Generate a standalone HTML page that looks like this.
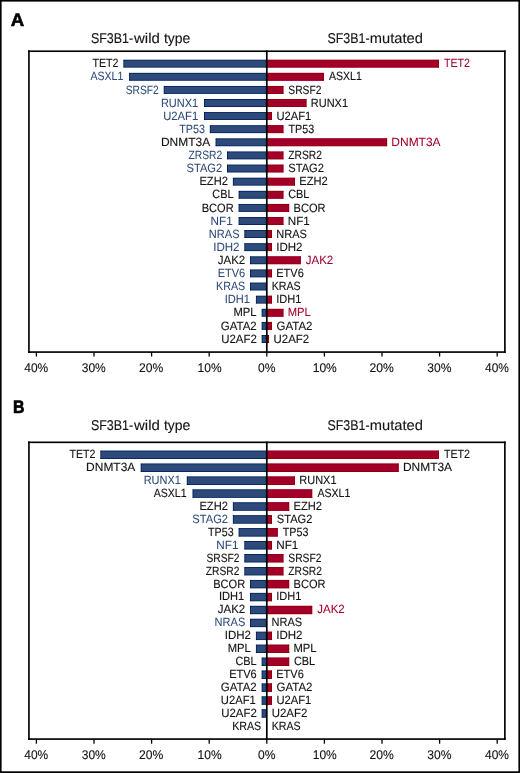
<!DOCTYPE html>
<html><head><meta charset="utf-8"><style>
html,body{margin:0;padding:0;background:#fff;width:520px;height:773px;overflow:hidden}
svg{display:block;will-change:transform;text-rendering:geometricPrecision;font-family:"Liberation Sans",sans-serif}
</style></head><body>
<svg width="520" height="773" viewBox="0 0 520 773" font-family="'Liberation Sans', sans-serif">
<defs><filter id="sh" x="0" y="0" width="100%" height="100%" filterUnits="userSpaceOnUse" color-interpolation-filters="sRGB"><feConvolveMatrix order="3" kernelMatrix="0 -0.2 0 -0.2 1.8 -0.2 0 -0.2 0" preserveAlpha="true"/></filter></defs>
<rect width="520" height="773" fill="#fff"/>
<g filter="url(#sh)">
<rect width="520" height="773" fill="#fff"/>
<rect x="123.30" y="59.60" width="143.50" height="8.10" fill="#2d4a7a"/>
<rect x="266.80" y="59.60" width="172.30" height="8.10" fill="#a2002b"/>
<rect x="129.06" y="72.71" width="137.74" height="8.10" fill="#2d4a7a"/>
<rect x="266.80" y="72.71" width="57.10" height="8.10" fill="#a2002b"/>
<rect x="163.62" y="85.82" width="103.18" height="8.10" fill="#2d4a7a"/>
<rect x="266.80" y="85.82" width="16.78" height="8.10" fill="#a2002b"/>
<rect x="203.94" y="98.93" width="62.86" height="8.10" fill="#2d4a7a"/>
<rect x="266.80" y="98.93" width="39.82" height="8.10" fill="#a2002b"/>
<rect x="203.94" y="112.04" width="62.86" height="8.10" fill="#2d4a7a"/>
<rect x="266.80" y="112.04" width="5.26" height="8.10" fill="#a2002b"/>
<rect x="209.70" y="125.15" width="57.10" height="8.10" fill="#2d4a7a"/>
<rect x="266.80" y="125.15" width="16.78" height="8.10" fill="#a2002b"/>
<rect x="215.46" y="138.26" width="51.34" height="8.10" fill="#2d4a7a"/>
<rect x="266.80" y="138.26" width="120.46" height="8.10" fill="#a2002b"/>
<rect x="226.98" y="151.37" width="39.82" height="8.10" fill="#2d4a7a"/>
<rect x="266.80" y="151.37" width="16.78" height="8.10" fill="#a2002b"/>
<rect x="226.98" y="164.48" width="39.82" height="8.10" fill="#2d4a7a"/>
<rect x="266.80" y="164.48" width="16.78" height="8.10" fill="#a2002b"/>
<rect x="232.74" y="177.59" width="34.06" height="8.10" fill="#2d4a7a"/>
<rect x="266.80" y="177.59" width="28.30" height="8.10" fill="#a2002b"/>
<rect x="238.50" y="190.70" width="28.30" height="8.10" fill="#2d4a7a"/>
<rect x="266.80" y="190.70" width="16.78" height="8.10" fill="#a2002b"/>
<rect x="238.50" y="203.81" width="28.30" height="8.10" fill="#2d4a7a"/>
<rect x="266.80" y="203.81" width="22.54" height="8.10" fill="#a2002b"/>
<rect x="238.50" y="216.92" width="28.30" height="8.10" fill="#2d4a7a"/>
<rect x="266.80" y="216.92" width="16.78" height="8.10" fill="#a2002b"/>
<rect x="244.26" y="230.03" width="22.54" height="8.10" fill="#2d4a7a"/>
<rect x="266.80" y="230.03" width="5.26" height="8.10" fill="#a2002b"/>
<rect x="244.26" y="243.14" width="22.54" height="8.10" fill="#2d4a7a"/>
<rect x="266.80" y="243.14" width="5.26" height="8.10" fill="#a2002b"/>
<rect x="250.02" y="256.25" width="16.78" height="8.10" fill="#2d4a7a"/>
<rect x="266.80" y="256.25" width="34.06" height="8.10" fill="#a2002b"/>
<rect x="250.02" y="269.36" width="16.78" height="8.10" fill="#2d4a7a"/>
<rect x="266.80" y="269.36" width="5.26" height="8.10" fill="#a2002b"/>
<rect x="250.02" y="282.47" width="16.78" height="8.10" fill="#2d4a7a"/>
<rect x="255.78" y="295.58" width="11.02" height="8.10" fill="#2d4a7a"/>
<rect x="266.80" y="295.58" width="5.26" height="8.10" fill="#a2002b"/>
<rect x="261.54" y="308.69" width="5.26" height="8.10" fill="#2d4a7a"/>
<rect x="266.80" y="308.69" width="16.78" height="8.10" fill="#a2002b"/>
<rect x="261.54" y="321.80" width="5.26" height="8.10" fill="#2d4a7a"/>
<rect x="266.80" y="321.80" width="5.26" height="8.10" fill="#a2002b"/>
<rect x="261.54" y="334.91" width="5.26" height="8.10" fill="#2d4a7a"/>
<rect x="266.80" y="334.91" width="2.38" height="8.10" fill="#a2002b"/>
<rect x="100.26" y="450.45" width="166.54" height="8.65" fill="#2d4a7a"/>
<rect x="266.80" y="450.45" width="172.30" height="8.65" fill="#a2002b"/>
<rect x="140.58" y="463.38" width="126.22" height="8.65" fill="#2d4a7a"/>
<rect x="266.80" y="463.38" width="131.98" height="8.65" fill="#a2002b"/>
<rect x="186.66" y="476.32" width="80.14" height="8.65" fill="#2d4a7a"/>
<rect x="266.80" y="476.32" width="28.30" height="8.65" fill="#a2002b"/>
<rect x="192.42" y="489.25" width="74.38" height="8.65" fill="#2d4a7a"/>
<rect x="266.80" y="489.25" width="45.58" height="8.65" fill="#a2002b"/>
<rect x="232.74" y="502.19" width="34.06" height="8.65" fill="#2d4a7a"/>
<rect x="266.80" y="502.19" width="22.54" height="8.65" fill="#a2002b"/>
<rect x="232.74" y="515.12" width="34.06" height="8.65" fill="#2d4a7a"/>
<rect x="266.80" y="515.12" width="5.26" height="8.65" fill="#a2002b"/>
<rect x="238.50" y="528.06" width="28.30" height="8.65" fill="#2d4a7a"/>
<rect x="266.80" y="528.06" width="11.02" height="8.65" fill="#a2002b"/>
<rect x="244.26" y="541.00" width="22.54" height="8.65" fill="#2d4a7a"/>
<rect x="266.80" y="541.00" width="5.26" height="8.65" fill="#a2002b"/>
<rect x="244.26" y="553.93" width="22.54" height="8.65" fill="#2d4a7a"/>
<rect x="266.80" y="553.93" width="16.78" height="8.65" fill="#a2002b"/>
<rect x="244.26" y="566.87" width="22.54" height="8.65" fill="#2d4a7a"/>
<rect x="266.80" y="566.87" width="16.78" height="8.65" fill="#a2002b"/>
<rect x="250.02" y="579.80" width="16.78" height="8.65" fill="#2d4a7a"/>
<rect x="266.80" y="579.80" width="22.54" height="8.65" fill="#a2002b"/>
<rect x="250.02" y="592.74" width="16.78" height="8.65" fill="#2d4a7a"/>
<rect x="266.80" y="592.74" width="5.26" height="8.65" fill="#a2002b"/>
<rect x="250.02" y="605.67" width="16.78" height="8.65" fill="#2d4a7a"/>
<rect x="266.80" y="605.67" width="45.58" height="8.65" fill="#a2002b"/>
<rect x="250.02" y="618.61" width="16.78" height="8.65" fill="#2d4a7a"/>
<rect x="255.78" y="631.54" width="11.02" height="8.65" fill="#2d4a7a"/>
<rect x="266.80" y="631.54" width="5.26" height="8.65" fill="#a2002b"/>
<rect x="255.78" y="644.48" width="11.02" height="8.65" fill="#2d4a7a"/>
<rect x="266.80" y="644.48" width="22.54" height="8.65" fill="#a2002b"/>
<rect x="261.54" y="657.41" width="5.26" height="8.65" fill="#2d4a7a"/>
<rect x="266.80" y="657.41" width="22.54" height="8.65" fill="#a2002b"/>
<rect x="261.54" y="670.35" width="5.26" height="8.65" fill="#2d4a7a"/>
<rect x="266.80" y="670.35" width="5.26" height="8.65" fill="#a2002b"/>
<rect x="261.54" y="683.28" width="5.26" height="8.65" fill="#2d4a7a"/>
<rect x="266.80" y="683.28" width="5.26" height="8.65" fill="#a2002b"/>
<rect x="261.54" y="696.22" width="5.26" height="8.65" fill="#2d4a7a"/>
<rect x="266.80" y="696.22" width="5.26" height="8.65" fill="#a2002b"/>
<rect x="261.54" y="709.15" width="5.26" height="8.65" fill="#2d4a7a"/>
</g>
<rect x="28.10" y="50.40" width="477.60" height="1.65" fill="#000"/>
<rect x="28.10" y="351.25" width="477.60" height="1.65" fill="#000"/>
<rect x="28.10" y="50.40" width="1.65" height="302.50" fill="#000"/>
<rect x="504.05" y="50.40" width="1.65" height="302.50" fill="#000"/>
<rect x="265.95" y="50.40" width="1.70" height="302.50" fill="#000"/>
<rect x="35.75" y="352.40" width="1.30" height="4.10" fill="#000"/>
<rect x="93.35" y="352.40" width="1.30" height="4.10" fill="#000"/>
<rect x="150.95" y="352.40" width="1.30" height="4.10" fill="#000"/>
<rect x="208.55" y="352.40" width="1.30" height="4.10" fill="#000"/>
<rect x="266.15" y="352.40" width="1.30" height="4.10" fill="#000"/>
<rect x="323.75" y="352.40" width="1.30" height="4.10" fill="#000"/>
<rect x="381.35" y="352.40" width="1.30" height="4.10" fill="#000"/>
<rect x="438.95" y="352.40" width="1.30" height="4.10" fill="#000"/>
<rect x="496.55" y="352.40" width="1.30" height="4.10" fill="#000"/>
<rect x="28.10" y="441.50" width="477.60" height="1.65" fill="#000"/>
<rect x="28.10" y="738.25" width="477.60" height="1.65" fill="#000"/>
<rect x="28.10" y="441.50" width="1.65" height="298.40" fill="#000"/>
<rect x="504.05" y="441.50" width="1.65" height="298.40" fill="#000"/>
<rect x="265.95" y="441.50" width="1.70" height="298.40" fill="#000"/>
<rect x="35.75" y="739.40" width="1.30" height="4.30" fill="#000"/>
<rect x="93.35" y="739.40" width="1.30" height="4.30" fill="#000"/>
<rect x="150.95" y="739.40" width="1.30" height="4.30" fill="#000"/>
<rect x="208.55" y="739.40" width="1.30" height="4.30" fill="#000"/>
<rect x="266.15" y="739.40" width="1.30" height="4.30" fill="#000"/>
<rect x="323.75" y="739.40" width="1.30" height="4.30" fill="#000"/>
<rect x="381.35" y="739.40" width="1.30" height="4.30" fill="#000"/>
<rect x="438.95" y="739.40" width="1.30" height="4.30" fill="#000"/>
<rect x="496.55" y="739.40" width="1.30" height="4.30" fill="#000"/>
<text transform="translate(92.49 67.30) scale(0.8854 1)" font-size="12.0" fill="#141414" stroke="#141414" stroke-width="0.136">TET2</text>
<text transform="translate(443.96 67.30) scale(0.8879 1)" font-size="12.0" fill="#a2002b" stroke="#a2002b" stroke-width="0.056">TET2</text>
<text transform="translate(90.39 80.41) scale(0.8800 1)" font-size="12.0" fill="#2d4a7a" stroke="#2d4a7a" stroke-width="0.057">ASXL1</text>
<text transform="translate(328.96 80.41) scale(0.8781 1)" font-size="12.0" fill="#141414" stroke="#141414" stroke-width="0.137">ASXL1</text>
<text transform="translate(125.72 93.52) scale(0.8554 1)" font-size="12.0" fill="#2d4a7a" stroke="#2d4a7a" stroke-width="0.058">SRSF2</text>
<text transform="translate(288.32 93.52) scale(0.8536 1)" font-size="12.0" fill="#141414" stroke="#141414" stroke-width="0.141">SRSF2</text>
<text transform="translate(160.91 106.63) scale(0.9159 1)" font-size="12.0" fill="#2d4a7a" stroke="#2d4a7a" stroke-width="0.055">RUNX1</text>
<text transform="translate(310.82 106.63) scale(0.9141 1)" font-size="12.0" fill="#141414" stroke="#141414" stroke-width="0.131">RUNX1</text>
<text transform="translate(163.16 119.74) scale(0.9374 1)" font-size="12.0" fill="#2d4a7a" stroke="#2d4a7a" stroke-width="0.053">U2AF1</text>
<text transform="translate(276.42 119.74) scale(0.9354 1)" font-size="12.0" fill="#141414" stroke="#141414" stroke-width="0.128">U2AF1</text>
<text transform="translate(179.16 132.85) scale(0.8980 1)" font-size="12.0" fill="#2d4a7a" stroke="#2d4a7a" stroke-width="0.056">TP53</text>
<text transform="translate(288.47 132.85) scale(0.8955 1)" font-size="12.0" fill="#141414" stroke="#141414" stroke-width="0.134">TP53</text>
<text transform="translate(160.99 145.96) scale(0.9963 1)" font-size="12.0" fill="#141414" stroke="#141414" stroke-width="0.120">DNMT3A</text>
<text transform="translate(391.35 145.96) scale(0.9978 1)" font-size="12.0" fill="#a2002b" stroke="#a2002b" stroke-width="0.050">DNMT3A</text>
<text transform="translate(188.48 159.07) scale(0.8563 1)" font-size="12.0" fill="#2d4a7a" stroke="#2d4a7a" stroke-width="0.058">ZRSR2</text>
<text transform="translate(288.32 159.07) scale(0.8545 1)" font-size="12.0" fill="#141414" stroke="#141414" stroke-width="0.140">ZRSR2</text>
<text transform="translate(186.56 172.18) scale(0.9270 1)" font-size="12.0" fill="#2d4a7a" stroke="#2d4a7a" stroke-width="0.054">STAG2</text>
<text transform="translate(288.29 172.18) scale(0.9252 1)" font-size="12.0" fill="#141414" stroke="#141414" stroke-width="0.130">STAG2</text>
<text transform="translate(199.43 185.29) scale(0.9292 1)" font-size="12.0" fill="#141414" stroke="#141414" stroke-width="0.129">EZH2</text>
<text transform="translate(299.29 185.29) scale(0.9292 1)" font-size="12.0" fill="#141414" stroke="#141414" stroke-width="0.129">EZH2</text>
<text transform="translate(212.35 198.40) scale(0.9065 1)" font-size="12.0" fill="#141414" stroke="#141414" stroke-width="0.132">CBL</text>
<text transform="translate(288.13 198.40) scale(0.9065 1)" font-size="12.0" fill="#141414" stroke="#141414" stroke-width="0.132">CBL</text>
<text transform="translate(201.70 211.51) scale(0.9209 1)" font-size="12.0" fill="#141414" stroke="#141414" stroke-width="0.130">BCOR</text>
<text transform="translate(293.54 211.51) scale(0.9209 1)" font-size="12.0" fill="#141414" stroke="#141414" stroke-width="0.130">BCOR</text>
<text transform="translate(210.61 224.62) scale(0.9767 1)" font-size="12.0" fill="#2d4a7a" stroke="#2d4a7a" stroke-width="0.051">NF1</text>
<text transform="translate(287.73 224.62) scale(0.9734 1)" font-size="12.0" fill="#141414" stroke="#141414" stroke-width="0.123">NF1</text>
<text transform="translate(208.82 237.73) scale(0.9201 1)" font-size="12.0" fill="#2d4a7a" stroke="#2d4a7a" stroke-width="0.054">NRAS</text>
<text transform="translate(276.26 237.73) scale(0.9179 1)" font-size="12.0" fill="#141414" stroke="#141414" stroke-width="0.131">NRAS</text>
<text transform="translate(213.18 250.84) scale(0.9627 1)" font-size="12.0" fill="#2d4a7a" stroke="#2d4a7a" stroke-width="0.052">IDH2</text>
<text transform="translate(276.22 250.84) scale(0.9600 1)" font-size="12.0" fill="#141414" stroke="#141414" stroke-width="0.125">IDH2</text>
<text transform="translate(217.80 263.95) scale(0.9562 1)" font-size="12.0" fill="#141414" stroke="#141414" stroke-width="0.126">JAK2</text>
<text transform="translate(305.71 263.95) scale(0.9587 1)" font-size="12.0" fill="#a2002b" stroke="#a2002b" stroke-width="0.052">JAK2</text>
<text transform="translate(217.68 277.06) scale(0.9182 1)" font-size="12.0" fill="#2d4a7a" stroke="#2d4a7a" stroke-width="0.054">ETV6</text>
<text transform="translate(276.26 277.06) scale(0.9158 1)" font-size="12.0" fill="#141414" stroke="#141414" stroke-width="0.131">ETV6</text>
<text transform="translate(216.11 290.17) scale(0.8916 1)" font-size="12.0" fill="#2d4a7a" stroke="#2d4a7a" stroke-width="0.056">KRAS</text>
<text transform="translate(271.63 290.17) scale(0.8893 1)" font-size="12.0" fill="#141414" stroke="#141414" stroke-width="0.135">KRAS</text>
<text transform="translate(224.74 303.28) scale(0.9241 1)" font-size="12.0" fill="#2d4a7a" stroke="#2d4a7a" stroke-width="0.054">IDH1</text>
<text transform="translate(276.26 303.28) scale(0.9214 1)" font-size="12.0" fill="#141414" stroke="#141414" stroke-width="0.130">IDH1</text>
<text transform="translate(233.52 316.39) scale(0.9335 1)" font-size="12.0" fill="#141414" stroke="#141414" stroke-width="0.129">MPL</text>
<text transform="translate(287.73 316.39) scale(0.9365 1)" font-size="12.0" fill="#a2002b" stroke="#a2002b" stroke-width="0.053">MPL</text>
<text transform="translate(220.86 329.50) scale(0.9552 1)" font-size="12.0" fill="#141414" stroke="#141414" stroke-width="0.126">GATA2</text>
<text transform="translate(276.58 329.50) scale(0.9552 1)" font-size="12.0" fill="#141414" stroke="#141414" stroke-width="0.126">GATA2</text>
<text transform="translate(221.19 342.61) scale(0.9521 1)" font-size="12.0" fill="#141414" stroke="#141414" stroke-width="0.126">U2AF2</text>
<text transform="translate(273.53 342.61) scale(0.9521 1)" font-size="12.0" fill="#141414" stroke="#141414" stroke-width="0.126">U2AF2</text>
<text transform="translate(24.27 371.80) scale(0.9486 1)" font-size="12.6" fill="#141414" stroke="#141414" stroke-width="0.126">40%</text>
<text transform="translate(81.68 371.80) scale(0.9563 1)" font-size="12.6" fill="#141414" stroke="#141414" stroke-width="0.125">30%</text>
<text transform="translate(139.09 371.80) scale(0.9640 1)" font-size="12.6" fill="#141414" stroke="#141414" stroke-width="0.124">20%</text>
<text transform="translate(197.51 371.80) scale(0.9553 1)" font-size="12.6" fill="#141414" stroke="#141414" stroke-width="0.126">10%</text>
<text transform="translate(257.98 371.80) scale(0.9563 1)" font-size="12.6" fill="#141414" stroke="#141414" stroke-width="0.125">0%</text>
<text transform="translate(312.71 371.80) scale(0.9553 1)" font-size="12.6" fill="#141414" stroke="#141414" stroke-width="0.126">10%</text>
<text transform="translate(369.49 371.80) scale(0.9640 1)" font-size="12.6" fill="#141414" stroke="#141414" stroke-width="0.124">20%</text>
<text transform="translate(427.28 371.80) scale(0.9563 1)" font-size="12.6" fill="#141414" stroke="#141414" stroke-width="0.125">30%</text>
<text transform="translate(485.07 371.80) scale(0.9486 1)" font-size="12.6" fill="#141414" stroke="#141414" stroke-width="0.126">40%</text>
<text transform="translate(90.97 42.90) scale(0.8770 1)" font-size="14.2" fill="#141414" stroke="#141414" stroke-width="0.137">SF3B1-</text>
<text transform="translate(134.04 42.90) scale(1.0563 1)" font-size="14.2" fill="#141414" stroke="#141414" stroke-width="0.114">wild</text>
<text transform="translate(163.96 42.90) scale(0.9854 1)" font-size="14.2" fill="#141414" stroke="#141414" stroke-width="0.122">type</text>
<text transform="translate(327.47 42.90) scale(0.8749 1)" font-size="14.2" fill="#141414" stroke="#141414" stroke-width="0.137">SF3B1-</text>
<text transform="translate(369.84 42.90) scale(1.0334 1)" font-size="14.2" fill="#141414" stroke="#141414" stroke-width="0.116">mutated</text>
<text transform="translate(10.81 25.50) scale(1.0230 1)" font-size="18.2" font-weight="bold" fill="#000" stroke="#000" stroke-width="0.587">A</text>
<text transform="translate(69.45 458.15) scale(0.8854 1)" font-size="12.0" fill="#141414" stroke="#141414" stroke-width="0.136">TET2</text>
<text transform="translate(443.99 458.15) scale(0.8854 1)" font-size="12.0" fill="#141414" stroke="#141414" stroke-width="0.136">TET2</text>
<text transform="translate(86.11 471.08) scale(0.9963 1)" font-size="12.0" fill="#141414" stroke="#141414" stroke-width="0.120">DNMT3A</text>
<text transform="translate(402.91 471.08) scale(0.9963 1)" font-size="12.0" fill="#141414" stroke="#141414" stroke-width="0.120">DNMT3A</text>
<text transform="translate(143.63 484.02) scale(0.9159 1)" font-size="12.0" fill="#2d4a7a" stroke="#2d4a7a" stroke-width="0.055">RUNX1</text>
<text transform="translate(299.30 484.02) scale(0.9141 1)" font-size="12.0" fill="#141414" stroke="#141414" stroke-width="0.131">RUNX1</text>
<text transform="translate(153.78 496.95) scale(0.8781 1)" font-size="12.0" fill="#141414" stroke="#141414" stroke-width="0.137">ASXL1</text>
<text transform="translate(317.44 496.95) scale(0.8781 1)" font-size="12.0" fill="#141414" stroke="#141414" stroke-width="0.137">ASXL1</text>
<text transform="translate(199.43 509.89) scale(0.9292 1)" font-size="12.0" fill="#141414" stroke="#141414" stroke-width="0.129">EZH2</text>
<text transform="translate(293.53 509.89) scale(0.9292 1)" font-size="12.0" fill="#141414" stroke="#141414" stroke-width="0.129">EZH2</text>
<text transform="translate(192.32 522.83) scale(0.9270 1)" font-size="12.0" fill="#2d4a7a" stroke="#2d4a7a" stroke-width="0.054">STAG2</text>
<text transform="translate(276.77 522.83) scale(0.9252 1)" font-size="12.0" fill="#141414" stroke="#141414" stroke-width="0.130">STAG2</text>
<text transform="translate(207.99 535.76) scale(0.8955 1)" font-size="12.0" fill="#141414" stroke="#141414" stroke-width="0.134">TP53</text>
<text transform="translate(282.71 535.76) scale(0.8955 1)" font-size="12.0" fill="#141414" stroke="#141414" stroke-width="0.134">TP53</text>
<text transform="translate(216.37 548.70) scale(0.9767 1)" font-size="12.0" fill="#2d4a7a" stroke="#2d4a7a" stroke-width="0.051">NF1</text>
<text transform="translate(276.21 548.70) scale(0.9734 1)" font-size="12.0" fill="#141414" stroke="#141414" stroke-width="0.123">NF1</text>
<text transform="translate(206.40 561.63) scale(0.8536 1)" font-size="12.0" fill="#141414" stroke="#141414" stroke-width="0.141">SRSF2</text>
<text transform="translate(288.32 561.63) scale(0.8536 1)" font-size="12.0" fill="#141414" stroke="#141414" stroke-width="0.141">SRSF2</text>
<text transform="translate(205.80 574.57) scale(0.8545 1)" font-size="12.0" fill="#141414" stroke="#141414" stroke-width="0.140">ZRSR2</text>
<text transform="translate(288.32 574.57) scale(0.8545 1)" font-size="12.0" fill="#141414" stroke="#141414" stroke-width="0.140">ZRSR2</text>
<text transform="translate(213.22 587.50) scale(0.9209 1)" font-size="12.0" fill="#141414" stroke="#141414" stroke-width="0.130">BCOR</text>
<text transform="translate(293.54 587.50) scale(0.9209 1)" font-size="12.0" fill="#141414" stroke="#141414" stroke-width="0.130">BCOR</text>
<text transform="translate(219.02 600.44) scale(0.9214 1)" font-size="12.0" fill="#141414" stroke="#141414" stroke-width="0.130">IDH1</text>
<text transform="translate(276.26 600.44) scale(0.9214 1)" font-size="12.0" fill="#141414" stroke="#141414" stroke-width="0.130">IDH1</text>
<text transform="translate(217.80 613.37) scale(0.9562 1)" font-size="12.0" fill="#141414" stroke="#141414" stroke-width="0.126">JAK2</text>
<text transform="translate(317.23 613.37) scale(0.9587 1)" font-size="12.0" fill="#a2002b" stroke="#a2002b" stroke-width="0.052">JAK2</text>
<text transform="translate(214.58 626.31) scale(0.9201 1)" font-size="12.0" fill="#2d4a7a" stroke="#2d4a7a" stroke-width="0.054">NRAS</text>
<text transform="translate(271.60 626.31) scale(0.9179 1)" font-size="12.0" fill="#141414" stroke="#141414" stroke-width="0.131">NRAS</text>
<text transform="translate(224.74 639.24) scale(0.9600 1)" font-size="12.0" fill="#141414" stroke="#141414" stroke-width="0.125">IDH2</text>
<text transform="translate(276.22 639.24) scale(0.9600 1)" font-size="12.0" fill="#141414" stroke="#141414" stroke-width="0.125">IDH2</text>
<text transform="translate(227.76 652.18) scale(0.9335 1)" font-size="12.0" fill="#141414" stroke="#141414" stroke-width="0.129">MPL</text>
<text transform="translate(293.52 652.18) scale(0.9335 1)" font-size="12.0" fill="#141414" stroke="#141414" stroke-width="0.129">MPL</text>
<text transform="translate(235.39 665.11) scale(0.9065 1)" font-size="12.0" fill="#141414" stroke="#141414" stroke-width="0.132">CBL</text>
<text transform="translate(293.89 665.11) scale(0.9065 1)" font-size="12.0" fill="#141414" stroke="#141414" stroke-width="0.132">CBL</text>
<text transform="translate(229.24 678.05) scale(0.9158 1)" font-size="12.0" fill="#141414" stroke="#141414" stroke-width="0.131">ETV6</text>
<text transform="translate(276.26 678.05) scale(0.9158 1)" font-size="12.0" fill="#141414" stroke="#141414" stroke-width="0.131">ETV6</text>
<text transform="translate(220.86 690.98) scale(0.9552 1)" font-size="12.0" fill="#141414" stroke="#141414" stroke-width="0.126">GATA2</text>
<text transform="translate(276.58 690.98) scale(0.9552 1)" font-size="12.0" fill="#141414" stroke="#141414" stroke-width="0.126">GATA2</text>
<text transform="translate(220.80 703.92) scale(0.9354 1)" font-size="12.0" fill="#141414" stroke="#141414" stroke-width="0.128">U2AF1</text>
<text transform="translate(276.42 703.92) scale(0.9354 1)" font-size="12.0" fill="#141414" stroke="#141414" stroke-width="0.128">U2AF1</text>
<text transform="translate(221.19 716.85) scale(0.9521 1)" font-size="12.0" fill="#141414" stroke="#141414" stroke-width="0.126">U2AF2</text>
<text transform="translate(271.75 716.85) scale(0.9521 1)" font-size="12.0" fill="#141414" stroke="#141414" stroke-width="0.126">U2AF2</text>
<text transform="translate(232.13 729.79) scale(0.8893 1)" font-size="12.0" fill="#141414" stroke="#141414" stroke-width="0.135">KRAS</text>
<text transform="translate(271.63 729.79) scale(0.8893 1)" font-size="12.0" fill="#141414" stroke="#141414" stroke-width="0.135">KRAS</text>
<text transform="translate(24.27 759.10) scale(0.9486 1)" font-size="12.6" fill="#141414" stroke="#141414" stroke-width="0.126">40%</text>
<text transform="translate(81.68 759.10) scale(0.9563 1)" font-size="12.6" fill="#141414" stroke="#141414" stroke-width="0.125">30%</text>
<text transform="translate(139.09 759.10) scale(0.9640 1)" font-size="12.6" fill="#141414" stroke="#141414" stroke-width="0.124">20%</text>
<text transform="translate(197.51 759.10) scale(0.9553 1)" font-size="12.6" fill="#141414" stroke="#141414" stroke-width="0.126">10%</text>
<text transform="translate(257.98 759.10) scale(0.9563 1)" font-size="12.6" fill="#141414" stroke="#141414" stroke-width="0.125">0%</text>
<text transform="translate(312.71 759.10) scale(0.9553 1)" font-size="12.6" fill="#141414" stroke="#141414" stroke-width="0.126">10%</text>
<text transform="translate(369.49 759.10) scale(0.9640 1)" font-size="12.6" fill="#141414" stroke="#141414" stroke-width="0.124">20%</text>
<text transform="translate(427.28 759.10) scale(0.9563 1)" font-size="12.6" fill="#141414" stroke="#141414" stroke-width="0.125">30%</text>
<text transform="translate(485.07 759.10) scale(0.9486 1)" font-size="12.6" fill="#141414" stroke="#141414" stroke-width="0.126">40%</text>
<text transform="translate(90.97 430.20) scale(0.8770 1)" font-size="14.2" fill="#141414" stroke="#141414" stroke-width="0.137">SF3B1-</text>
<text transform="translate(134.04 430.20) scale(1.0563 1)" font-size="14.2" fill="#141414" stroke="#141414" stroke-width="0.114">wild</text>
<text transform="translate(163.96 430.20) scale(0.9854 1)" font-size="14.2" fill="#141414" stroke="#141414" stroke-width="0.122">type</text>
<text transform="translate(327.47 430.20) scale(0.8749 1)" font-size="14.2" fill="#141414" stroke="#141414" stroke-width="0.137">SF3B1-</text>
<text transform="translate(369.84 430.20) scale(1.0334 1)" font-size="14.2" fill="#141414" stroke="#141414" stroke-width="0.116">mutated</text>
<text transform="translate(12.91 413.00) scale(0.8703 1)" font-size="18.2" font-weight="bold" fill="#000" stroke="#000" stroke-width="0.689">B</text>
<rect x="0" y="0" width="520" height="1.6" fill="#000"/>
<rect x="0" y="0" width="1.6" height="773" fill="#000"/>
<rect x="518.4" y="0" width="1.6" height="773" fill="#000"/>
<rect x="0" y="771.3" width="520" height="1.7" fill="#000"/>
</svg>
</body></html>
